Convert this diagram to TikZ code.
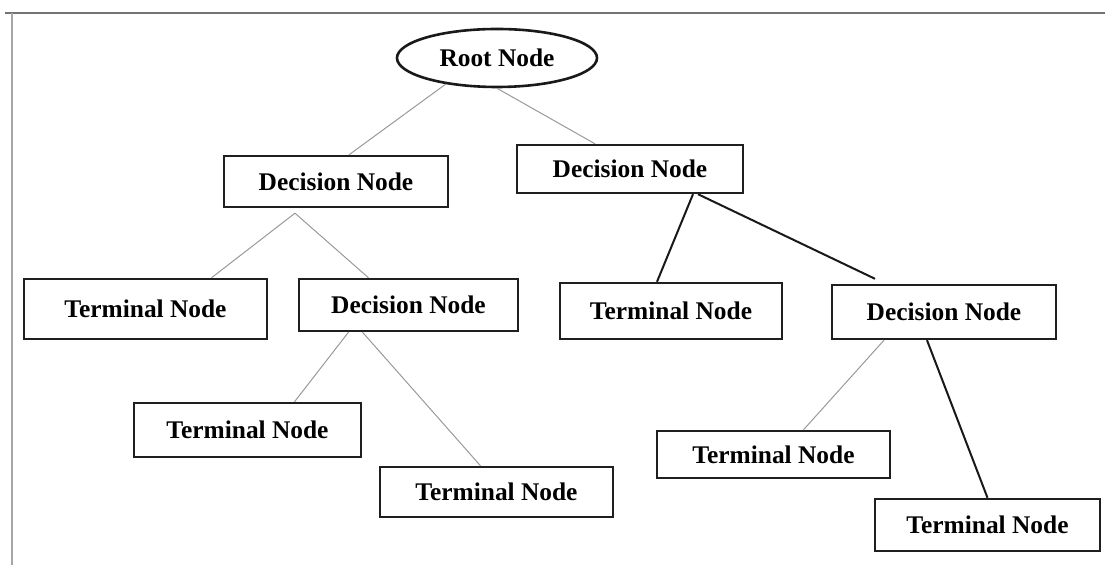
\documentclass[tikz,border=0pt]{standalone}
\usepackage{fontspec}
\setmainfont{Liberation Serif}
\usepackage{tikz}
\usetikzlibrary{shapes.geometric,calc}

\begin{document}
\begin{tikzpicture}[x=0.5pt, y=-0.5pt,
    every node/.style={font=\fontsize{12.7}{14}\selectfont\bfseries, inner sep=0pt},
    nodebox/.style={draw=black!88, line width=1.2pt, rectangle},
    rootnode/.style={draw=black!90, line width=1.3pt, ellipse},
    thinedge/.style={draw=black!40, line width=0.5pt},
    thickedge/.style={draw=black!90, line width=1pt}]
    \useasboundingbox (0,0) rectangle (1105,565);
    \draw[black!55, line width=0.75pt] (5,13) -- (1105,13);
    \draw[black!35, line width=0.75pt] (12,13) -- (12,565);
    % root and first level
    \node[rootnode, minimum width=100pt, minimum height=29pt] (root) at (497,58) {Root Node};
    \node[nodebox, minimum width=112pt, minimum height=25.5pt] (dl) at (336,181.5) {Decision Node};
    \node[nodebox, minimum width=113pt, minimum height=24pt] (dr) at (630,169) {Decision Node};
    % second level
    \node[nodebox, minimum width=121.5pt, minimum height=30pt] (tl) at (145.5,309) {Terminal Node};
    \node[nodebox, minimum width=109.5pt, minimum height=26pt] (dc) at (408.5,305) {Decision Node};
    \node[nodebox, minimum width=111pt, minimum height=28pt] (tm) at (671,311) {Terminal Node};
    \node[nodebox, minimum width=112pt, minimum height=27pt] (drr) at (944,312) {Decision Node};
    % third level
    \node[nodebox, minimum width=113.5pt, minimum height=27pt] (tcl) at (247.5,430) {Terminal Node};
    \node[nodebox, minimum width=116.5pt, minimum height=25pt] (tcr) at (496.5,492) {Terminal Node};
    \node[nodebox, minimum width=116.5pt, minimum height=23.5pt] (trl) at (773.5,454.5) {Terminal Node};
    \node[nodebox, minimum width=112.5pt, minimum height=26pt] (trr) at (987.5,525) {Terminal Node};
    % edges
    \coordinate (dlfork) at ($(dl.south)+(-41,5)$);
    \draw[thinedge] (root.207) -- ($(dl.north)+(13,0)$);
    \draw[thinedge] (root.south) -- ($(dr.north)+(-35,0)$);
    \draw[thinedge] (dlfork) -- ($(tl.north)+(66,0)$);
    \draw[thinedge] (dlfork) -- ($(dc.north)+(-40,0)$);
    \draw[thickedge] ($(dr.south)+(63,0)$) -- ($(tm.north)+(-14,0)$);
    \draw[thickedge] ($(dr.south)+(68,0)$) -- ($(drr.north)+(-69,-5)$);
    \draw[thinedge] ($(dc.south)+(-60,0)$) -- ($(tcl.north)+(47,0)$);
    \draw[thinedge] ($(dc.south)+(-46,0)$) -- ($(tcr.north)+(-16,0)$);
    \draw[thinedge] ($(drr.south)+(-60,0)$) -- ($(trl.north)+(30,0)$);
    \draw[thickedge] ($(drr.south)+(-17,0)$) -- (trr.north);
\end{tikzpicture}
\end{document}
